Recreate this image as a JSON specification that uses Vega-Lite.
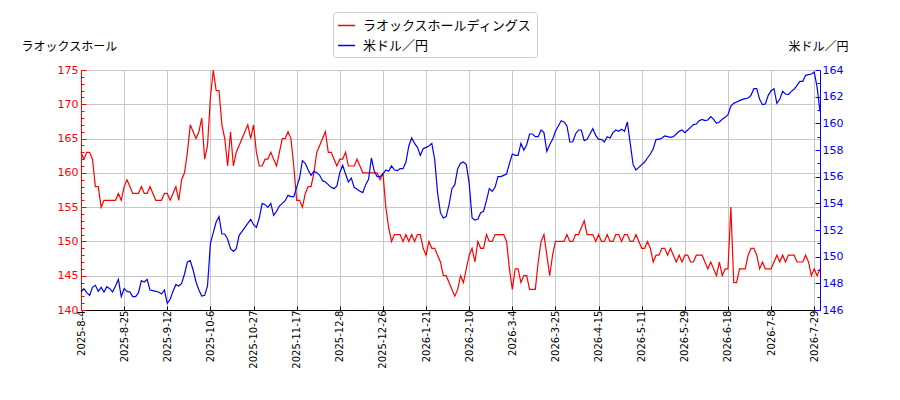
{
  "$schema": "https://vega.github.io/schema/vega-lite/v6.json",
  "autosize": {"type": "none"},
  "padding": {"left": 81, "top": 70, "right": 80, "bottom": 90},
  "width": 739,
  "height": 240,
  "config": {"view": {"stroke": null}},
  "data": {
    "values": [
      {"day":0,"laox":163,"usdjpy":147.35},{"day":1,"laox":162,"usdjpy":147.6},{"day":2,"laox":163,"usdjpy":147.3},{"day":3,"laox":163,"usdjpy":147.1},{"day":4,"laox":162,"usdjpy":147.7},
      {"day":5,"laox":158,"usdjpy":147.85},{"day":6,"laox":158,"usdjpy":147.4},{"day":7,"laox":155,"usdjpy":147.7},{"day":8,"laox":156,"usdjpy":147.35},{"day":9,"laox":156,"usdjpy":147.75},
      {"day":10,"laox":156,"usdjpy":147.6},{"day":11,"laox":156,"usdjpy":147.35},{"day":12,"laox":156,"usdjpy":147.8},{"day":13,"laox":157,"usdjpy":148.3},{"day":14,"laox":156,"usdjpy":147.0},
      {"day":15,"laox":158,"usdjpy":147.6},{"day":16,"laox":159,"usdjpy":147.4},{"day":17,"laox":158,"usdjpy":147.35},{"day":18,"laox":157,"usdjpy":147.0},{"day":19,"laox":157,"usdjpy":147.0},
      {"day":20,"laox":157,"usdjpy":147.3},{"day":21,"laox":158,"usdjpy":148.2},{"day":22,"laox":157,"usdjpy":148.1},{"day":23,"laox":157,"usdjpy":148.3},{"day":24,"laox":158,"usdjpy":147.5},
      {"day":25,"laox":157,"usdjpy":147.45},{"day":26,"laox":156,"usdjpy":147.4},{"day":27,"laox":156,"usdjpy":147.35},{"day":28,"laox":156,"usdjpy":147.2},{"day":29,"laox":157,"usdjpy":147.5},
      {"day":30,"laox":157,"usdjpy":146.5},{"day":31,"laox":156,"usdjpy":146.8},{"day":32,"laox":157,"usdjpy":147.4},{"day":33,"laox":158,"usdjpy":147.9},{"day":34,"laox":156,"usdjpy":147.8},
      {"day":35,"laox":159,"usdjpy":148.0},{"day":36,"laox":160,"usdjpy":148.7},{"day":37,"laox":163,"usdjpy":149.6},{"day":38,"laox":167,"usdjpy":149.7},{"day":39,"laox":166,"usdjpy":149.0},
      {"day":40,"laox":165,"usdjpy":148.1},{"day":41,"laox":166,"usdjpy":147.5},{"day":42,"laox":168,"usdjpy":147.05},{"day":43,"laox":162,"usdjpy":147.1},{"day":44,"laox":164,"usdjpy":147.8},
      {"day":45,"laox":171,"usdjpy":151.0},{"day":46,"laox":175,"usdjpy":151.8},{"day":47,"laox":172,"usdjpy":152.6},{"day":48,"laox":172,"usdjpy":153.0},{"day":49,"laox":167,"usdjpy":151.7},
      {"day":50,"laox":165,"usdjpy":151.7},{"day":51,"laox":161,"usdjpy":151.3},{"day":52,"laox":166,"usdjpy":150.6},{"day":53,"laox":161,"usdjpy":150.4},{"day":54,"laox":163,"usdjpy":150.6},
      {"day":55,"laox":164,"usdjpy":151.6},{"day":56,"laox":165,"usdjpy":151.9},{"day":57,"laox":166,"usdjpy":152.2},{"day":58,"laox":167,"usdjpy":152.5},{"day":59,"laox":165,"usdjpy":152.8},
      {"day":60,"laox":167,"usdjpy":152.4},{"day":61,"laox":163,"usdjpy":152.2},{"day":62,"laox":161,"usdjpy":152.9},{"day":63,"laox":161,"usdjpy":154.0},{"day":64,"laox":162,"usdjpy":153.9},
      {"day":65,"laox":162,"usdjpy":153.7},{"day":66,"laox":163,"usdjpy":154.0},{"day":67,"laox":162,"usdjpy":153.1},{"day":68,"laox":161,"usdjpy":153.4},{"day":69,"laox":163,"usdjpy":153.8},
      {"day":70,"laox":165,"usdjpy":154.0},{"day":71,"laox":165,"usdjpy":154.2},{"day":72,"laox":166,"usdjpy":154.6},{"day":73,"laox":165,"usdjpy":154.5},{"day":74,"laox":161,"usdjpy":154.5},
      {"day":75,"laox":156,"usdjpy":155.2},{"day":76,"laox":156,"usdjpy":155.9},{"day":77,"laox":155,"usdjpy":157.2},{"day":78,"laox":157,"usdjpy":157.0},{"day":79,"laox":158,"usdjpy":156.5},
      {"day":80,"laox":158,"usdjpy":156.1},{"day":81,"laox":160,"usdjpy":156.4},{"day":82,"laox":163,"usdjpy":156.3},{"day":83,"laox":164,"usdjpy":156.1},{"day":84,"laox":165,"usdjpy":155.7},
      {"day":85,"laox":166,"usdjpy":155.6},{"day":86,"laox":163,"usdjpy":155.4},{"day":87,"laox":163,"usdjpy":155.2},{"day":88,"laox":162,"usdjpy":155.1},{"day":89,"laox":161,"usdjpy":155.3},
      {"day":90,"laox":162,"usdjpy":156.3},{"day":91,"laox":162,"usdjpy":156.85},{"day":92,"laox":163,"usdjpy":156.2},{"day":93,"laox":161,"usdjpy":155.6},{"day":94,"laox":161,"usdjpy":155.9},
      {"day":95,"laox":161,"usdjpy":155.2},{"day":96,"laox":162,"usdjpy":155.05},{"day":97,"laox":161,"usdjpy":154.9},{"day":98,"laox":160,"usdjpy":154.8},{"day":99,"laox":160,"usdjpy":155.4},
      {"day":100,"laox":160,"usdjpy":155.8},{"day":101,"laox":160,"usdjpy":157.4},{"day":102,"laox":160,"usdjpy":156.4},{"day":103,"laox":160,"usdjpy":156.0},{"day":104,"laox":159,"usdjpy":156.0},
      {"day":105,"laox":160,"usdjpy":156.2},{"day":106,"laox":155,"usdjpy":156.5},{"day":107,"laox":152,"usdjpy":156.4},{"day":108,"laox":150,"usdjpy":156.8},{"day":109,"laox":151,"usdjpy":156.5},
      {"day":110,"laox":151,"usdjpy":156.45},{"day":111,"laox":151,"usdjpy":156.6},{"day":112,"laox":150,"usdjpy":156.6},{"day":113,"laox":151,"usdjpy":157.1},{"day":114,"laox":150,"usdjpy":158.3},
      {"day":115,"laox":151,"usdjpy":158.9},{"day":116,"laox":150,"usdjpy":158.5},{"day":117,"laox":151,"usdjpy":158.2},{"day":118,"laox":151,"usdjpy":157.6},{"day":119,"laox":149,"usdjpy":158.1},
      {"day":120,"laox":148,"usdjpy":158.2},{"day":121,"laox":150,"usdjpy":158.3},{"day":122,"laox":149,"usdjpy":158.5},{"day":123,"laox":149,"usdjpy":157.3},{"day":124,"laox":148,"usdjpy":154.8},
      {"day":125,"laox":147,"usdjpy":153.3},{"day":126,"laox":145,"usdjpy":152.9},{"day":127,"laox":145,"usdjpy":153.0},{"day":128,"laox":144,"usdjpy":153.9},{"day":129,"laox":143,"usdjpy":155.1},
      {"day":130,"laox":142,"usdjpy":155.4},{"day":131,"laox":143,"usdjpy":156.6},{"day":132,"laox":145,"usdjpy":157.0},{"day":133,"laox":144,"usdjpy":157.1},{"day":134,"laox":146,"usdjpy":156.9},
      {"day":135,"laox":148,"usdjpy":155.5},{"day":136,"laox":149,"usdjpy":152.9},{"day":137,"laox":147,"usdjpy":152.75},{"day":138,"laox":150,"usdjpy":152.8},{"day":139,"laox":149,"usdjpy":153.3},
      {"day":140,"laox":149,"usdjpy":153.4},{"day":141,"laox":151,"usdjpy":154.2},{"day":142,"laox":150,"usdjpy":155.1},{"day":143,"laox":150,"usdjpy":154.9},{"day":144,"laox":151,"usdjpy":155.2},
      {"day":145,"laox":151,"usdjpy":156.0},{"day":146,"laox":151,"usdjpy":156.0},{"day":147,"laox":151,"usdjpy":156.1},{"day":148,"laox":150,"usdjpy":156.2},{"day":149,"laox":146,"usdjpy":157.0},
      {"day":150,"laox":143,"usdjpy":157.7},{"day":151,"laox":146,"usdjpy":157.6},{"day":152,"laox":146,"usdjpy":157.6},{"day":153,"laox":144,"usdjpy":158.5},{"day":154,"laox":145,"usdjpy":158.0},
      {"day":155,"laox":145,"usdjpy":158.4},{"day":156,"laox":143,"usdjpy":159.2},{"day":157,"laox":143,"usdjpy":159.2},{"day":158,"laox":143,"usdjpy":159.0},{"day":159,"laox":147,"usdjpy":159.0},
      {"day":160,"laox":150,"usdjpy":159.5},{"day":161,"laox":151,"usdjpy":159.3},{"day":162,"laox":148,"usdjpy":157.9},{"day":163,"laox":145,"usdjpy":158.4},{"day":164,"laox":148,"usdjpy":158.8},
      {"day":165,"laox":150,"usdjpy":159.4},{"day":166,"laox":150,"usdjpy":159.8},{"day":167,"laox":150,"usdjpy":160.2},{"day":168,"laox":150,"usdjpy":160.1},{"day":169,"laox":151,"usdjpy":159.8},
      {"day":170,"laox":150,"usdjpy":158.6},{"day":171,"laox":150,"usdjpy":158.6},{"day":172,"laox":151,"usdjpy":159.2},{"day":173,"laox":151,"usdjpy":159.5},{"day":174,"laox":152,"usdjpy":159.5},
      {"day":175,"laox":153,"usdjpy":158.7},{"day":176,"laox":151,"usdjpy":158.8},{"day":177,"laox":151,"usdjpy":159.2},{"day":178,"laox":151,"usdjpy":159.6},{"day":179,"laox":150,"usdjpy":159.1},
      {"day":180,"laox":151,"usdjpy":158.8},{"day":181,"laox":150,"usdjpy":158.8},{"day":182,"laox":150,"usdjpy":158.6},{"day":183,"laox":151,"usdjpy":159.0},{"day":184,"laox":150,"usdjpy":158.9},
      {"day":185,"laox":150,"usdjpy":159.3},{"day":186,"laox":151,"usdjpy":159.5},{"day":187,"laox":151,"usdjpy":159.4},{"day":188,"laox":150,"usdjpy":159.55},{"day":189,"laox":151,"usdjpy":159.4},
      {"day":190,"laox":151,"usdjpy":160.1},{"day":191,"laox":150,"usdjpy":158.5},{"day":192,"laox":150,"usdjpy":156.9},{"day":193,"laox":151,"usdjpy":156.5},{"day":194,"laox":150,"usdjpy":156.7},
      {"day":195,"laox":149,"usdjpy":156.9},{"day":196,"laox":149,"usdjpy":157.1},{"day":197,"laox":150,"usdjpy":157.4},{"day":198,"laox":149,"usdjpy":157.7},{"day":199,"laox":147,"usdjpy":158.1},
      {"day":200,"laox":148,"usdjpy":158.8},{"day":201,"laox":148,"usdjpy":158.8},{"day":202,"laox":149,"usdjpy":158.9},{"day":203,"laox":149,"usdjpy":159.05},{"day":204,"laox":148,"usdjpy":159.0},
      {"day":205,"laox":149,"usdjpy":158.95},{"day":206,"laox":148,"usdjpy":159.0},{"day":207,"laox":147,"usdjpy":159.2},{"day":208,"laox":148,"usdjpy":159.4},{"day":209,"laox":147,"usdjpy":159.5},
      {"day":210,"laox":148,"usdjpy":159.3},{"day":211,"laox":148,"usdjpy":159.5},{"day":212,"laox":147,"usdjpy":159.7},{"day":213,"laox":147,"usdjpy":159.9},{"day":214,"laox":148,"usdjpy":159.95},
      {"day":215,"laox":148,"usdjpy":160.2},{"day":216,"laox":148,"usdjpy":160.3},{"day":217,"laox":147,"usdjpy":160.2},{"day":218,"laox":146,"usdjpy":160.25},{"day":219,"laox":147,"usdjpy":160.5},
      {"day":220,"laox":146,"usdjpy":160.3},{"day":221,"laox":145,"usdjpy":160.0},{"day":222,"laox":147,"usdjpy":160.1},{"day":223,"laox":145,"usdjpy":160.3},{"day":224,"laox":146,"usdjpy":160.45},
      {"day":225,"laox":146,"usdjpy":160.65},{"day":226,"laox":155,"usdjpy":161.3},{"day":227,"laox":144,"usdjpy":161.5},{"day":228,"laox":144,"usdjpy":161.6},{"day":229,"laox":146,"usdjpy":161.7},
      {"day":230,"laox":146,"usdjpy":161.8},{"day":231,"laox":146,"usdjpy":161.85},{"day":232,"laox":148,"usdjpy":161.9},{"day":233,"laox":149,"usdjpy":162.1},{"day":234,"laox":149,"usdjpy":162.6},
      {"day":235,"laox":148,"usdjpy":162.6},{"day":236,"laox":146,"usdjpy":161.8},{"day":237,"laox":147,"usdjpy":161.4},{"day":238,"laox":146,"usdjpy":161.45},{"day":239,"laox":146,"usdjpy":162.1},
      {"day":240,"laox":146,"usdjpy":162.45},{"day":241,"laox":147,"usdjpy":162.6},{"day":242,"laox":148,"usdjpy":161.5},{"day":243,"laox":147,"usdjpy":161.8},{"day":244,"laox":148,"usdjpy":162.4},
      {"day":245,"laox":147,"usdjpy":162.2},{"day":246,"laox":148,"usdjpy":162.15},{"day":247,"laox":148,"usdjpy":162.4},{"day":248,"laox":148,"usdjpy":162.55},{"day":249,"laox":147,"usdjpy":162.85},
      {"day":250,"laox":147,"usdjpy":163.15},{"day":251,"laox":147,"usdjpy":163.15},{"day":252,"laox":148,"usdjpy":163.6},{"day":253,"laox":147,"usdjpy":163.65},{"day":254,"laox":145,"usdjpy":163.7},
      {"day":255,"laox":146,"usdjpy":163.85},{"day":256,"laox":145,"usdjpy":162.7},{"day":257,"laox":146,"usdjpy":160.9}
    ]
  },
  "encoding": {
    "x": {
      "field": "day",
      "type": "quantitative",
      "scale": {"domain": [0, 257], "nice": false, "zero": false},
      "axis": {
        "title": null,
        "values": [0, 15, 30, 45, 60, 75, 90, 105, 120, 135, 150, 165, 180, 195, 210, 225, 240, 255],
        "labelExpr": "['2025-8-4','2025-8-25','2025-9-12','2025-10-6','2025-10-27','2025-11-17','2025-12-8','2025-12-26','2026-1-21','2026-2-10','2026-3-4','2026-3-25','2026-4-15','2026-5-11','2026-5-29','2026-6-18','2026-7-8','2026-7-29'][round(datum.value / 15)]",
        "labelAngle": 270,
        "labelAlign": "right",
        "labelBaseline": "middle",
        "labelFlush": false,
        "labelBound": false,
        "labelFont": "DejaVu Sans",
        "labelFontSize": 10,
        "labelColor": "#000000",
        "labelPadding": 4,
        "labelOverlap": false,
        "tickSize": -4,
        "tickColor": "#000000",
        "domainColor": "#000000",
        "grid": true,
        "gridColor": "#c8c8c8",
        "gridWidth": 1
      }
    }
  },
  "layer": [
    {
      "mark": {"type": "line", "strokeWidth": 1.2, "interpolate": "linear"},
      "encoding": {
        "y": {
          "field": "laox",
          "type": "quantitative",
          "scale": {"domain": [140, 175], "nice": false, "zero": false},
          "axis": {
            "orient": "left",
            "values": [140,141,142,143,144,145,146,147,148,149,150,151,152,153,154,155,156,157,158,159,160,161,162,163,164,165,166,167,168,169,170,171,172,173,174,175],
            "labelExpr": "datum.value % 5 === 0 ? datum.label : ''",
            "labelColor": "#ff0000",
            "labelFont": "DejaVu Sans",
            "labelFontSize": 11,
            "labelPadding": 8,
            "labelFlush": false,
            "tickColor": "#ff0000",
            "tickSize": {"condition": {"test": "datum.value % 5 === 0", "value": -5}, "value": -3},
            "domainColor": "#ff0000",
            "grid": true,
            "gridColor": "#c8c8c8",
            "gridOpacity": {"condition": {"test": "datum.value % 5 === 0", "value": 1}, "value": 0},
            "title": "ラオックスホール",
            "titleAngle": 0,
            "titleAlign": "left",
            "titleBaseline": "alphabetic",
            "titleX": -60,
            "titleY": -20,
            "titleFont": "Noto Sans CJK JP",
            "titleFontSize": 12,
            "titleFontWeight": "normal",
            "titleColor": "#000000"
          }
        },
        "color": {
          "datum": "ラオックスホールディングス",
          "type": "nominal",
          "scale": {"domain": ["ラオックスホールディングス", "米ドル／円"], "range": ["#ff0000", "#0000ff"]},
          "legend": {
            "title": null,
            "orient": "none",
            "legendX": 252,
            "legendY": -58,
            "symbolType": "stroke",
            "symbolSize": 289,
            "symbolStrokeWidth": 1.5,
            "labelFont": "Noto Sans CJK JP",
            "labelFontSize": 13,
            "labelColor": "#000000",
            "labelLimit": 0,
            "labelOffset": 7,
            "rowPadding": 3,
            "padding": 4,
            "strokeColor": "#cccccc",
            "fillColor": "#ffffff",
            "cornerRadius": 3
          }
        }
      }
    },
    {
      "mark": {"type": "line", "strokeWidth": 1.2, "interpolate": "linear"},
      "encoding": {
        "y": {
          "field": "usdjpy",
          "type": "quantitative",
          "scale": {"domain": [146, 164], "nice": false, "zero": false},
          "axis": {
            "orient": "right",
            "values": [146,147,148,149,150,151,152,153,154,155,156,157,158,159,160,161,162,163,164],
            "labelExpr": "datum.value % 2 === 0 ? datum.label : ''",
            "labelColor": "#0000ff",
            "labelFont": "DejaVu Sans",
            "labelFontSize": 11,
            "labelPadding": 7,
            "labelFlush": false,
            "tickColor": "#0000ff",
            "tickSize": {"condition": {"test": "datum.value % 2 === 0", "value": -5}, "value": -3},
            "domainColor": "#0000ff",
            "grid": false,
            "title": "米ドル／円",
            "titleAngle": 0,
            "titleAlign": "right",
            "titleBaseline": "alphabetic",
            "titleX": 28,
            "titleY": -20,
            "titleFont": "Noto Sans CJK JP",
            "titleFontSize": 12,
            "titleFontWeight": "normal",
            "titleColor": "#000000"
          }
        },
        "color": {"datum": "米ドル／円", "type": "nominal"}
      }
    }
  ],
  "resolve": {"scale": {"y": "independent"}, "axis": {"y": "independent"}}
}
